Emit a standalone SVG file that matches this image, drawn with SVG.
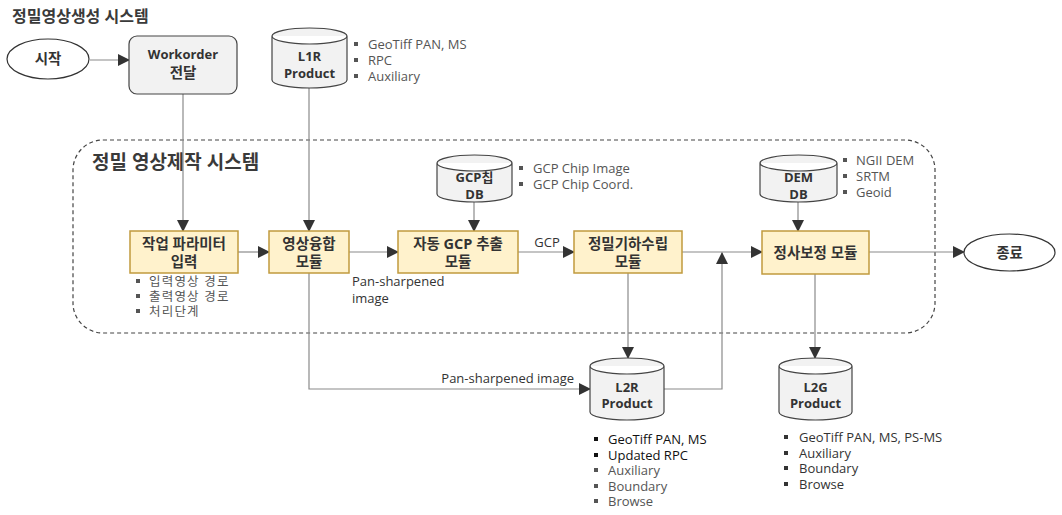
<svg xmlns="http://www.w3.org/2000/svg" width="1062" height="515" viewBox="0 0 1062 515">
<style>
text{font-family:"Open Sans","Noto Sans CJK KR",sans-serif;}
.title{font-weight:bold;fill:#3a3a3a;}
.lbl{font-size:13px;font-weight:bold;fill:#333;text-anchor:middle;}
.ko{font-size:14.5px;}
.blt{font-size:13px;fill:#555;}
.kb{font-size:12.5px;letter-spacing:1.2px;}
.blk{fill:#111;}
.dk{fill:#333;}
.sq{fill:#555;}
.mod{fill:#fff2cc;stroke:#c19a3e;stroke-width:1.5;}
.cyl{fill:#f2f2f2;stroke:#444;stroke-width:1.2;}
.ell{fill:#fff;stroke:#333;stroke-width:1.2;}
.wo{fill:#f2f2f2;stroke:#444;stroke-width:1.2;}
.ah{fill:none;stroke:#8a8a8a;stroke-width:1.2;marker-end:url(#arr);}
.cl{font-size:13px;fill:#333;}
</style>
<defs>
<marker id="arr" markerUnits="userSpaceOnUse" markerWidth="12" markerHeight="12" viewBox="0 0 12 12" refX="11" refY="6" orient="auto">
<path d="M0,0 L12,6 L0,12 Z" fill="#333"/>
</marker>
</defs>
<rect width="1062" height="515" fill="#fff"/>
<text class="title" x="12" y="22" font-size="16">정밀영상생성 시스템</text>
<g id="system">
<rect x="73" y="140" width="862" height="193" rx="30" fill="none" stroke="#444" stroke-width="1.2" stroke-dasharray="4,3"/>
<text class="title" x="92" y="169" font-size="19">정밀 영상제작 시스템</text>
</g>
<g id="connectors">
<path class="ah" d="M90,60 H129"/>
<path class="ah" d="M183,94 V231"/>
<path class="ah" d="M309,88 V231"/>
<path class="ah" d="M238,252 H269"/>
<path class="ah" d="M349,252 H398"/>
<path class="ah" d="M474,202 V231"/>
<path class="ah" d="M518,252 H574"/>
<text class="cl" x="547" y="247" text-anchor="middle">GCP</text>
<path class="ah" d="M682,252 H762"/>
<path class="ah" d="M798,202 V231"/>
<path class="ah" d="M869,252 H964"/>
<path class="ah" d="M309,273 V389 H590"/>
<text class="cl" x="574" y="383" text-anchor="end">Pan-sharpened image</text>
<text class="cl" x="352" y="286" font-size="12.5">Pan-sharpened</text>
<text class="cl" x="352" y="303" font-size="12.5">image</text>
<path class="ah" d="M628,273 V358"/>
<path class="ah" d="M664,389 H722 V253"/>
<path class="ah" d="M815,274 V358"/>
</g>
<g id="start">
<ellipse class="ell" cx="48" cy="59" rx="41" ry="20"/>
<text class="lbl ko" x="48" y="64">시작</text>
</g>
<g id="workorder">
<rect class="wo" x="129" y="36" width="108" height="58" rx="8"/>
<text class="lbl" x="183" y="59">Workorder</text>
<text class="lbl ko" x="183" y="78">전달</text>
</g>
<g id="l1r">
<path class="cyl" d="M272,36 A37.5,8 0 0 1 347,36 V80 A37.5,8 0 0 1 272,80 Z M272,36 A37.5,8 0 0 0 347,36"/>
<text class="lbl" x="309.5" y="61">L1R</text>
<text class="lbl" x="309.5" y="78">Product</text>
<rect class="sq" x="354" y="42" width="4" height="4"/><text class="blt" x="368" y="49">GeoTiff PAN, MS</text>
<rect class="sq" x="354" y="58" width="4" height="4"/><text class="blt" x="368" y="65">RPC</text>
<rect class="sq" x="354" y="74" width="4" height="4"/><text class="blt" x="368" y="81">Auxiliary</text>
</g>
<g id="param">
<rect class="mod" x="130" y="231" width="108" height="42"/>
<text class="lbl ko" x="184" y="249">작업 파라미터</text>
<text class="lbl ko" x="184" y="267">입력</text>
<rect class="sq" x="136" y="279" width="4" height="4"/><text class="blt kb" x="149" y="286">입력영상 경로</text>
<rect class="sq" x="136" y="294" width="4" height="4"/><text class="blt kb" x="149" y="301">출력영상 경로</text>
<rect class="sq" x="136" y="309" width="4" height="4"/><text class="blt kb" x="149" y="316">처리단계</text>
</g>
<g id="fusion">
<rect class="mod" x="269" y="231" width="80" height="42"/>
<text class="lbl ko" x="309" y="249">영상융합</text>
<text class="lbl ko" x="309" y="267">모듈</text>
</g>
<g id="gcpdb">
<path class="cyl" d="M437,163 A37.5,8 0 0 1 512,163 V194 A37.5,8 0 0 1 437,194 Z M437,163 A37.5,8 0 0 0 512,163"/>
<text class="lbl" x="474.5" y="182">GCP칩</text>
<text class="lbl" x="474.5" y="199">DB</text>
<rect class="sq" x="519" y="166" width="4" height="4"/><text class="blt" x="533" y="173">GCP Chip Image</text>
<rect class="sq" x="519" y="182" width="4" height="4"/><text class="blt" x="533" y="189">GCP Chip Coord.</text>
</g>
<g id="gcp">
<rect class="mod" x="398" y="231" width="120" height="42"/>
<text class="lbl ko" x="458" y="249">자동 GCP 추출</text>
<text class="lbl ko" x="458" y="267">모듈</text>
</g>
<g id="geo">
<rect class="mod" x="574" y="231" width="108" height="42"/>
<text class="lbl ko" x="628" y="249">정밀기하수립</text>
<text class="lbl ko" x="628" y="267">모듈</text>
</g>
<g id="demdb">
<path class="cyl" d="M760,163 A38.5,8 0 0 1 837,163 V194 A38.5,8 0 0 1 760,194 Z M760,163 A38.5,8 0 0 0 837,163"/>
<text class="lbl" x="798.5" y="182">DEM</text>
<text class="lbl" x="798.5" y="199">DB</text>
<rect class="sq" x="843" y="158" width="4" height="4"/><text class="blt" x="856" y="165">NGII DEM</text>
<rect class="sq" x="843" y="174" width="4" height="4"/><text class="blt" x="856" y="181">SRTM</text>
<rect class="sq" x="843" y="190" width="4" height="4"/><text class="blt" x="856" y="197">Geoid</text>
</g>
<g id="ortho">
<rect class="mod" x="762" y="231" width="107" height="43"/>
<text class="lbl ko" x="815.5" y="258">정사보정 모듈</text>
</g>
<g id="end">
<ellipse class="ell" cx="1009.5" cy="252.5" rx="45.5" ry="18.5"/>
<text class="lbl ko" x="1009.5" y="257.5">종료</text>
</g>
<g id="l2r">
<path class="cyl" d="M590,366 A37,8 0 0 1 664,366 V412 A37,8 0 0 1 590,412 Z M590,366 A37,8 0 0 0 664,366"/>
<text class="lbl" x="627" y="392">L2R</text>
<text class="lbl" x="627" y="408">Product</text>
<rect x="594" y="437" width="4" height="4" fill="#111"/><text class="blt blk" x="608" y="444">GeoTiff PAN, MS</text>
<rect x="594" y="453" width="4" height="4" fill="#111"/><text class="blt blk" x="608" y="460">Updated RPC</text>
<rect class="sq" x="594" y="468" width="4" height="4"/><text class="blt" x="608" y="475">Auxiliary</text>
<rect class="sq" x="594" y="484" width="4" height="4"/><text class="blt" x="608" y="491">Boundary</text>
<rect class="sq" x="594" y="499" width="4" height="4"/><text class="blt" x="608" y="506">Browse</text>
</g>
<g id="l2g">
<path class="cyl" d="M779,366 A36.5,8 0 0 1 852,366 V412 A36.5,8 0 0 1 779,412 Z M779,366 A36.5,8 0 0 0 852,366"/>
<text class="lbl" x="815.5" y="392">L2G</text>
<text class="lbl" x="815.5" y="408">Product</text>
<rect x="784" y="435" width="4" height="4" fill="#333"/><text class="blt dk" x="799" y="442">GeoTiff PAN, MS, PS-MS</text>
<rect x="784" y="451" width="4" height="4" fill="#333"/><text class="blt dk" x="799" y="458">Auxiliary</text>
<rect x="784" y="466" width="4" height="4" fill="#333"/><text class="blt dk" x="799" y="473">Boundary</text>
<rect x="784" y="482" width="4" height="4" fill="#333"/><text class="blt dk" x="799" y="489">Browse</text>
</g>
</svg>
